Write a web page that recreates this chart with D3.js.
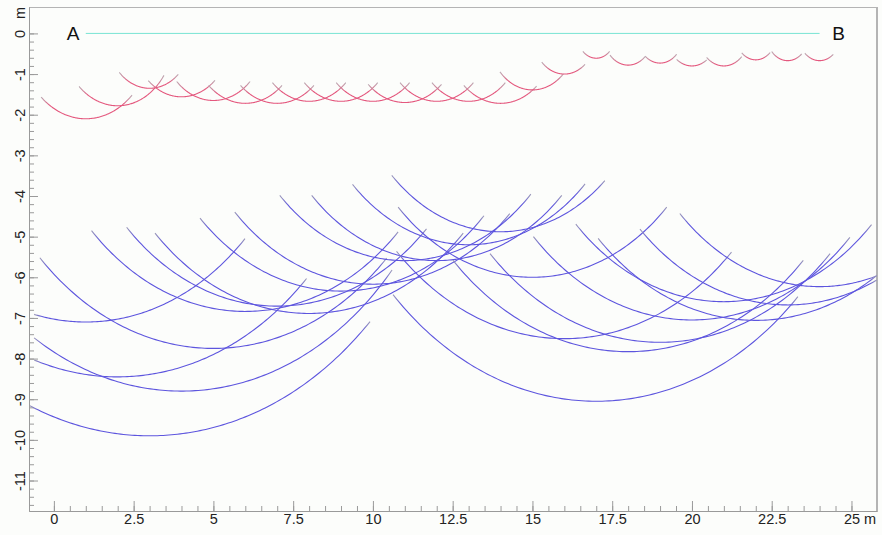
<!DOCTYPE html>
<html><head><meta charset="utf-8">
<script src="https://cdn.jsdelivr.net/npm/d3@7"></script>
<style>
html,body{margin:0;padding:0;background:#fcfdfb;}
svg{display:block;font-family:"Liberation Sans",Arial,sans-serif;}
</style></head><body>
<svg id="chart" width="882" height="535"></svg>
<script>
// ---- data (metres) ----
const sourceX = [1,2,3,4,5,6,7,8,9,10,11,12,13,14,15,16,17,18,19,20,21,22,23,24];
// shallow reflector arcs (red)
const redRadius = [2.10,1.78,1.35,1.56,1.65,1.72,1.72,1.67,1.67,1.67,1.70,1.67,1.67,1.72,1.39,1.00,0.61,0.78,0.73,0.80,0.80,0.65,0.67,0.67];
const redStart  = [-0.40,0.79,2.05,2.96,3.85,4.85,5.85,6.85,7.85,8.85,9.85,10.85,11.85,12.85,13.98,15.29,16.58,17.43,18.53,19.52,20.46,21.56,22.50,23.54];
const redEnd    = [2.45,3.45,3.90,5.05,6.15,7.15,8.15,9.15,10.15,11.15,12.15,13.15,14.15,15.13,15.97,16.65,17.42,18.53,19.52,20.46,21.56,22.45,23.44,24.43];
// deep reflector arcs (blue)
const blueRadius = [7.10,8.45,9.90,8.80,7.75,6.84,6.71,6.89,6.34,6.17,5.59,5.59,5.20,4.88,6.00,7.51,9.05,7.83,7.60,7.05,6.60,7.06,6.68,6.23];
const blueStart  = [-0.62,-0.62,-0.75,-0.62,-0.44,1.18,2.28,3.17,4.58,5.67,7.08,8.08,9.36,10.59,10.79,10.74,10.63,12.51,13.67,15.03,16.36,17.06,18.37,19.62];
const blueEnd    = [5.99,7.92,9.91,10.60,10.43,10.79,11.68,12.83,13.48,14.29,14.95,15.92,16.65,17.27,19.21,21.24,23.32,23.49,24.33,24.95,25.63,25.80,25.80,25.80];
const profileLine = [1, 24];
const endLabels = ["A", "B"];
const endLabelX = [0.6, 24.6];
const xTickLabels = [0,2.5,5,7.5,10,12.5,15,17.5,20,22.5,25];
const yTickLabels = [0,-1,-2,-3,-4,-5,-6,-7,-8,-9,-10,-11];

// ---- layout ----
const plot = {left:29, right:877, top:7, bottom:511};
const svg = d3.select("#chart");
svg.append("rect").attr("width",882).attr("height",535).attr("fill","#fcfdfb");

const x = d3.scaleLinear().domain([-0.78, 25.8]).range([plot.left, plot.right]);
const y = d3.scaleLinear().domain([0.65, -11.75]).range([plot.top, plot.bottom]);

const defs = svg.append("defs");
defs.append("clipPath").attr("id","clip").append("rect")
  .attr("x",plot.left).attr("y",plot.top)
  .attr("width",plot.right-plot.left).attr("height",plot.bottom-plot.top);

// frame
svg.append("line").attr("x1",plot.left).attr("x2",plot.right).attr("y1",plot.top+0.5).attr("y2",plot.top+0.5)
  .attr("stroke","#b4b4b4").attr("stroke-width",1);
svg.append("line").attr("x1",plot.right).attr("x2",plot.right).attr("y1",plot.top).attr("y2",plot.bottom)
  .attr("stroke","#b4b4b4").attr("stroke-width",2);

// axes
const axisColor = "#9a9a9a";
const xMinor = d3.range(0, 25.01, 0.5);
const yMinor = d3.range(0, -11.61, -0.2).map(v => Math.round(v*10)/10);

const gxMinor = svg.append("g").attr("transform",`translate(0,${plot.bottom})`)
  .call(d3.axisBottom(x).tickValues(xMinor).tickSize(-5).tickSizeOuter(0).tickFormat(""));
const gx = svg.append("g").attr("transform",`translate(0,${plot.bottom})`)
  .call(d3.axisBottom(x).tickValues(xTickLabels).tickSize(-10).tickSizeOuter(0).tickPadding(3)
    .tickFormat(d => String(d)));
const gyMinor = svg.append("g").attr("transform",`translate(${plot.left},0)`)
  .call(d3.axisLeft(y).tickValues(yMinor).tickSize(-5).tickSizeOuter(0).tickFormat(""));
const gy = svg.append("g").attr("transform",`translate(${plot.left},0)`)
  .call(d3.axisLeft(y).tickValues(yTickLabels).tickSize(-9).tickSizeOuter(0).tickFormat(d => String(d)));

[gx,gxMinor,gy,gyMinor].forEach(g => {
  g.selectAll("path,line").attr("stroke",axisColor);
  g.selectAll("text").attr("fill","#222").style("font-size","14.5px").style("font-family","'Liberation Sans',Arial,sans-serif");
});
gy.selectAll("text")
  .attr("x",0).attr("dy","0.35em").attr("text-anchor","middle")
  .attr("transform","translate(-9,0) rotate(-90)");

// unit labels
svg.append("text").attr("text-anchor","middle").attr("dy","0.35em")
  .attr("transform",`translate(20,${plot.top+6}) rotate(-90)`)
  .attr("fill","#222").style("font-size","14.5px").text("m");
svg.append("text").attr("x",870).attr("y",plot.bottom+3).attr("dy","0.71em").attr("text-anchor","middle")
  .attr("fill","#222").style("font-size","14.5px").text("m");

const area = svg.append("g").attr("clip-path","url(#clip)");

// profile line
area.append("line")
  .attr("x1",x(profileLine[0])).attr("x2",x(profileLine[1]))
  .attr("y1",y(0)).attr("y2",y(0))
  .attr("stroke","#78e4d4").attr("stroke-width",1);

svg.selectAll("text.end").data(endLabels).enter().append("text")
  .attr("class","end")
  .attr("x",(d,i)=>x(endLabelX[i])).attr("y",y(0)).attr("dy","0.36em")
  .attr("text-anchor","middle").attr("fill","#111")
  .style("font-size","19px").text(d=>d);

// arcs: circle centred at (c,0) with radius r, drawn between x0 and x1
const line = d3.line().x(d=>x(d[0])).y(d=>y(d[1]));
function arcPoints(c, r, x0, x1){
  const n = 120, pts = [];
  for(let i=0;i<=n;i++){
    const xv = x0 + (x1-x0)*i/n;
    const dx = xv - c;
    pts.push([xv, -Math.sqrt(Math.max(0, r*r - dx*dx))]);
  }
  return pts;
}
function drawArcs(cls, radius, start, end, color, tipColor, width){
  sourceX.forEach((c,i) => {
    const px0 = x(start[i]), px1 = x(end[i]);
    const w = px1 - px0;
    const f = Math.min(0.25, 9 / w);
    const id = `${cls}-grad-${i}`;
    const g = defs.append("linearGradient").attr("id",id)
      .attr("gradientUnits","userSpaceOnUse")
      .attr("x1",px0).attr("x2",px1).attr("y1",0).attr("y2",0);
    g.append("stop").attr("offset",0).attr("stop-color",tipColor);
    g.append("stop").attr("offset",f).attr("stop-color",color);
    g.append("stop").attr("offset",1-f).attr("stop-color",color);
    g.append("stop").attr("offset",1).attr("stop-color",tipColor);
    area.append("path")
      .attr("class",cls)
      .attr("d", line(arcPoints(c, radius[i], start[i], end[i])))
      .attr("fill","none")
      .attr("stroke",`url(#${id})`)
      .attr("stroke-width",width);
  });
}
drawArcs("red", redRadius, redStart, redEnd, "#e4587e", "#bba9b2", 1.1);
drawArcs("blue", blueRadius, blueStart, blueEnd, "#5d55de", "#9c9ab8", 1.1);
</script>
</body></html>
